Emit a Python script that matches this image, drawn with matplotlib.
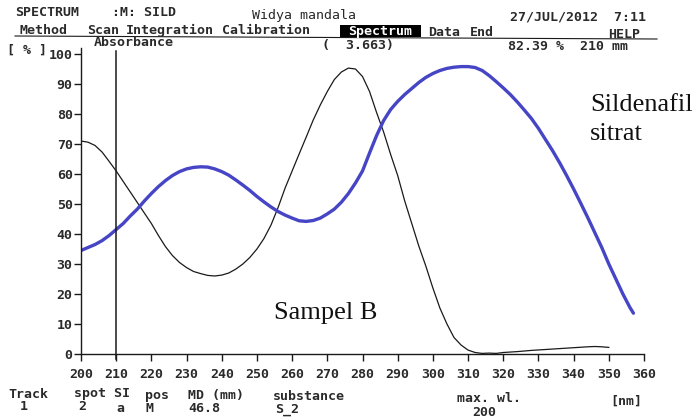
import numpy as np
import matplotlib
matplotlib.use("Agg")
import matplotlib.pyplot as plt
from matplotlib.lines import Line2D
from matplotlib.patches import Rectangle

# --- data ---
wl_sample = [200, 202, 204, 206, 208, 210, 212, 214, 216, 218, 220, 222, 224,
             226, 228, 230, 232, 234, 236, 238, 240, 242, 244, 246, 248, 250,
             252, 254, 256, 258, 260, 262, 264, 266, 268, 270, 272, 274, 276,
             278, 280, 282, 284, 286, 288, 290, 292, 294, 296, 298, 300, 302,
             304, 306, 308, 310, 312, 314, 316, 318, 320, 324, 328, 332, 336,
             340, 344, 346, 348, 350]
abs_sample = [71.0, 70.6, 69.5, 67.3, 64.2, 61.0, 57.5, 54.0, 50.5, 47.0, 43.5,
              39.5, 35.8, 32.8, 30.5, 28.8, 27.5, 26.8, 26.2, 26.0, 26.3, 27.0,
              28.3, 30.0, 32.2, 35.0, 38.5, 43.0, 48.8, 55.3, 61.0, 66.7, 72.3,
              78.0, 83.0, 87.5, 91.5, 94.0, 95.3, 95.0, 92.5, 87.5, 80.5, 74.0,
              66.5, 59.5, 51.0, 43.5, 36.0, 29.3, 22.0, 15.3, 10.0, 5.5, 3.0,
              1.3, 0.5, 0.2, 0.3, 0.2, 0.5, 0.8, 1.2, 1.5, 1.8, 2.1, 2.4, 2.5,
              2.4, 2.2]

wl_std = [200, 202, 204, 206, 208, 210, 212, 214, 216, 218, 220, 222, 224, 226,
          228, 230, 232, 234, 236, 238, 240, 242, 244, 246, 248, 250, 252, 254,
          256, 258, 260, 262, 264, 266, 268, 270, 272, 274, 276, 278, 280, 282,
          284, 286, 288, 290, 292, 294, 296, 298, 300, 302, 304, 306, 308, 310,
          312, 314, 316, 318, 320, 322, 324, 326, 328, 330, 332, 334, 336, 338,
          340, 342, 344, 346, 348, 350, 352, 354, 356, 357]
abs_std = [34.5, 35.5, 36.5, 37.8, 39.5, 41.5, 43.5, 46.0, 48.3, 51.0, 53.5,
           55.8, 57.8, 59.5, 60.8, 61.7, 62.2, 62.4, 62.3, 61.7, 60.8, 59.6,
           58.0, 56.3, 54.5, 52.5, 50.7, 49.0, 47.5, 46.3, 45.3, 44.4, 44.2,
           44.5, 45.3, 46.7, 48.3, 50.6, 53.5, 57.0, 61.0, 67.0, 72.8, 77.8,
           81.5, 84.2, 86.5, 88.5, 90.5, 92.2, 93.5, 94.5, 95.2, 95.6, 95.8,
           95.8, 95.5, 94.5, 92.8, 90.8, 88.7, 86.5, 84.0, 81.3, 78.5, 75.2,
           71.5, 67.8, 63.8, 59.5, 55.0, 50.3, 45.5, 40.5, 35.5, 30.0, 25.0,
           20.0, 15.5, 13.6]

mark_wl = 210
x_ticks = list(range(200, 361, 10))
y_ticks = list(range(0, 101, 10))

W, H = 698, 417
MONO = "DejaVu Sans Mono"
INK = "#1a1a1a"
TXT = "#2a2a2a"
FS = 9.5

fig = plt.figure(figsize=(W / 100, H / 100), dpi=100)
ax = fig.add_axes([81 / W, 1 - 354 / H, (644 - 81) / W, (354 - 48) / H])

ax.plot(wl_sample, abs_sample, color=INK, lw=0.9)
ax.plot(wl_std, abs_std, color="#4545c6", lw=2.4, solid_capstyle="round")
ax.axvline(mark_wl, ymin=-0.015, ymax=0.99, color=INK, lw=1.1, clip_on=False)

ax.set_xlim(200, 360)
ax.set_ylim(0, 102)
ax.set_xticks(x_ticks)
ax.set_yticks(y_ticks)
for s in ["top", "right"]:
    ax.spines[s].set_visible(False)
for s in ["left", "bottom"]:
    ax.spines[s].set_color(INK)
    ax.spines[s].set_linewidth(1.0)
ax.tick_params(axis="both", direction="out", length=5, width=1.0, color=INK,
               labelcolor=TXT, labelsize=FS)
ax.tick_params(axis="x", pad=5)
ax.tick_params(axis="y", pad=1)
for lab in ax.get_xticklabels() + ax.get_yticklabels():
    lab.set_fontfamily(MONO)
    lab.set_fontweight("bold")

ax.text(0.435, 0.115, "Sampel B", transform=ax.transAxes,
        family="Liberation Serif", fontsize=19, color="#111111", ha="center")
ax.text(590 / W, 1 - 140 / H, "Sildenafil\nsitrat", transform=fig.transFigure,
        family="Liberation Serif", fontsize=19, color="#111111",
        linespacing=1.4, va="baseline")


def ptext(x, y, s, **kw):
    opts = dict(family=MONO, fontsize=FS, color=TXT, fontweight="bold",
                va="center", ha="left")
    opts.update(kw)
    fig.text(x / W, 1 - y / H, s, **opts)


# header
ptext(15, 13, "SPECTRUM")
ptext(112, 13, ":M: SILD")
ptext(252, 16, "Widya mandala", fontweight="normal")
ptext(510, 17, "27/JUL/2012  7:11")
ptext(20, 30, "Method")
ptext(87, 30, "Scan")
ptext(126, 30, "Integration")
ptext(222, 31, "Calibration")
fig.add_artist(Rectangle((340 / W, 1 - 37 / H), 81 / W, 12 / H,
                         transform=fig.transFigure, facecolor="black",
                         edgecolor="none"))
ptext(348, 31, "Spectrum", color="white")
ptext(428, 32, "Data")
ptext(470, 32, "End")
ptext(608, 34, "HELP")
fig.add_artist(Line2D([15 / W, 657 / W], [1 - 36 / H, 1 - 39 / H],
                      color=INK, lw=0.8))
ptext(7, 50, "[ % ]")
ptext(94, 42, "Absorbance")
ptext(322, 46, "(  3.663)")
ptext(508, 46, "82.39 %  210 mm")

# footer
ptext(8, 394, "Track")
ptext(74, 394, "spot SI")
ptext(145, 395, "pos")
ptext(188, 395, "MD (mm)")
ptext(273, 396, "substance")
ptext(457, 399, "max. wl.")
ptext(610, 401, "[nm]")
ptext(20, 407, "1")
ptext(78, 407, "2")
ptext(116, 408, "a")
ptext(145, 408, "M")
ptext(188, 408, "46.8")
ptext(275, 409, "S_2")
ptext(472, 412, "200")

fig.savefig("out.png", dpi=100)
